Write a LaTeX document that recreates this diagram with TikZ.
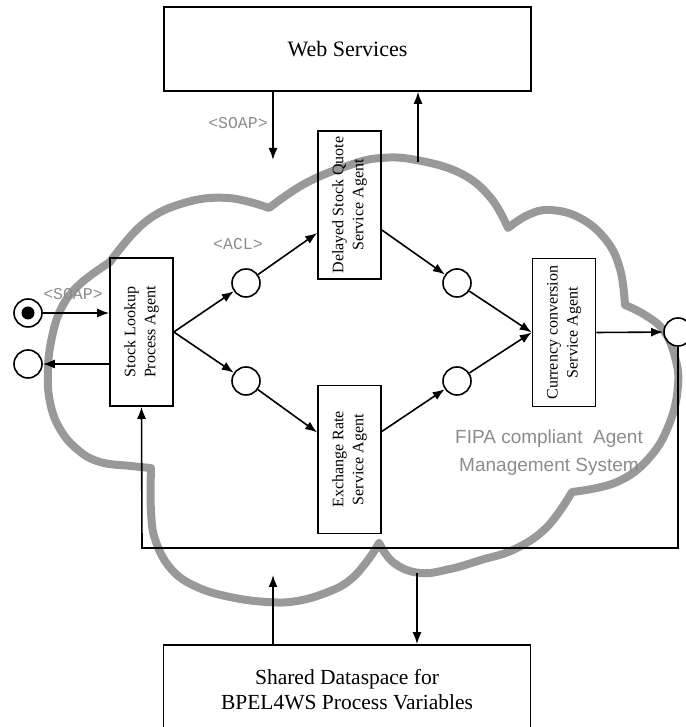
\documentclass[tikz,border=0pt]{standalone}
\usepackage{fontspec}
\setmainfont{Liberation Serif}
\setsansfont{Liberation Sans}
\setmonofont{Liberation Mono}
\usetikzlibrary{arrows.meta}
\definecolor{cloudgray}{gray}{0.6}
\definecolor{labelgray}{gray}{0.55}

\begin{document}
\begin{tikzpicture}[x=1pt,y=1pt,line width=1.6pt,>={Latex[length=12pt,width=9pt]},
	agent/.style={draw,rectangle,minimum width=63pt,minimum height=148pt,inner sep=0pt},
	bigbox/.style={draw,rectangle,minimum width=367pt,inner sep=0pt,align=center,font=\fontsize{22}{26}\selectfont},
	vtext/.style={rotate=90,align=center,font=\fontsize{16}{20}\selectfont},
	place/.style={draw,circle,fill=white,minimum size=28pt,inner sep=0pt},
	proto/.style={text=labelgray,font=\ttfamily\fontsize{16.5}{20}\selectfont}]
	\useasboundingbox (0,0) rectangle (685,727);

	%cloud
	\draw[cloudgray,line width=8pt,line join=round]
	  plot [smooth, tension=0.7] coordinates {(110,465) (144,504) (184,524) (228,529) (269,519)} %upper left lobe
	  -- plot [smooth, tension=0.7] coordinates {(269,519) (306,544) (350,562) (381,569) (416,567) (460,554) (490,530) (508,499)} %top lobe
	  -- plot [smooth, tension=0.7] coordinates {(508,499) (528,512) (550,517) (580,509) (606,487) (620,458) (625,422)} %upper right lobe
	  -- plot [smooth, tension=0.7] coordinates {(625,422) (645,412) (664,396) (675,370) (678,342) (670,305) (650,270) (617,245) (572,235)} %right lobe
	  -- plot [smooth, tension=0.7] coordinates {(572,235) (547,200) (515,178) (481,167) (450,158) (420,154) (394,164) (379,184)} %lower right lobe
	  -- plot [smooth, tension=0.7] coordinates {(379,184) (368,167) (350,147) (328,135) (297,126) (267,125) (230,130) (197,140) (172,157) (156,185) (151,215) (151,259)} %bottom lobe
	  -- plot [smooth, tension=0.7] coordinates {(151,259) (131,261) (100,265) (78,277) (60,298) (50,325) (48,357) (52,390) (62,420) (80,443) (110,465)} %left lobe
	  -- cycle;

	%big boxes
	\node[bigbox,minimum height=84pt] (web) at (347.5,678) {Web Services};
	\node[bigbox,minimum height=90pt,font=\fontsize{21.5}{25}\selectfont] (shared) at (347,37) {Shared Dataspace for\\BPEL4WS Process Variables};

	%agents
	\node[agent] (slp) at (141.5,395) {};
	\node[vtext] (slp-t) at (slp) {Stock Lookup\\Process Agent};
	\node[agent] (dsq) at (349.5,522) {};
	\node[vtext] (dsq-t) at (dsq) {Delayed Stock Quote\\Service Agent};
	\node[agent] (exr) at (349.5,267.5) {};
	\node[vtext] (exr-t) at (exr) {Exchange Rate\\Service Agent};
	\node[agent] (ccs) at (564,394.5) {};
	\node[vtext] (ccs-t) at (ccs) {Currency conversion\\Service Agent};

	%places
	\node[place] (in) at (28,414) {};
	\node[circle,fill=black,minimum size=13pt,inner sep=0pt] (in-dot) at (in) {};
	\node[place] (out) at (28,363) {};
	\node[place] (u1) at (246,444) {};
	\node[place] (d1) at (246,346) {};
	\node[place] (u2) at (457,444) {};
	\node[place] (d2) at (457,346) {};
	\node[place] (res) at (678,395) {};

	%labels
	\node[proto] (soap-ws) at (238,604) {<SOAP>};
	\node[proto] (soap-in) at (73,433) {<SOAP>};
	\node[proto] (acl) at (238,483) {<ACL>};
	\node[text=labelgray,align=center,font=\sffamily\fontsize{19}{28}\selectfont] (fipa) at (549,274) {FIPA compliant\ \ Agent\\Management System};

	%web services arrows
	\coordinate (soapin) at (273,567);
	\coordinate (soapout) at (418,565);
	\draw[->] (web.south -| soapin) -- (soapin);
	\draw[->] (soapout) -- (web.south -| soapout);

	%dataspace arrows
	\coordinate (dsin) at (273,152);
	\coordinate (dsout) at (417,154);
	\draw[->] (shared.north -| dsin) -- (dsin);
	\draw[->] (dsout) -- (shared.north -| dsout);

	%process flow
	\draw[->] (in) -- (slp.west |- in);
	\draw[->] (slp.west |- out) -- (out);
	\draw[->] (slp.east) -- (u1);
	\draw[->] (slp.east) -- (d1);
	\draw[->] (u1) -- ([yshift=-28pt]dsq.west);
	\draw[->] (d1) -- ([yshift=27pt]exr.west);
	\draw[->] ([yshift=-25pt]dsq.east) -- (u2);
	\draw[->] ([yshift=28pt]exr.east) -- (d2);
	\draw[->] (u2) -- (ccs.west);
	\draw[->] (d2) -- (ccs.west);
	\draw[->] (ccs.east) -- (res);

	%feedback
	\coordinate (fbk) at (142,179);
	\draw[->] (res.south) |- (fbk) -- (slp.south);
\end{tikzpicture}
\end{document}
